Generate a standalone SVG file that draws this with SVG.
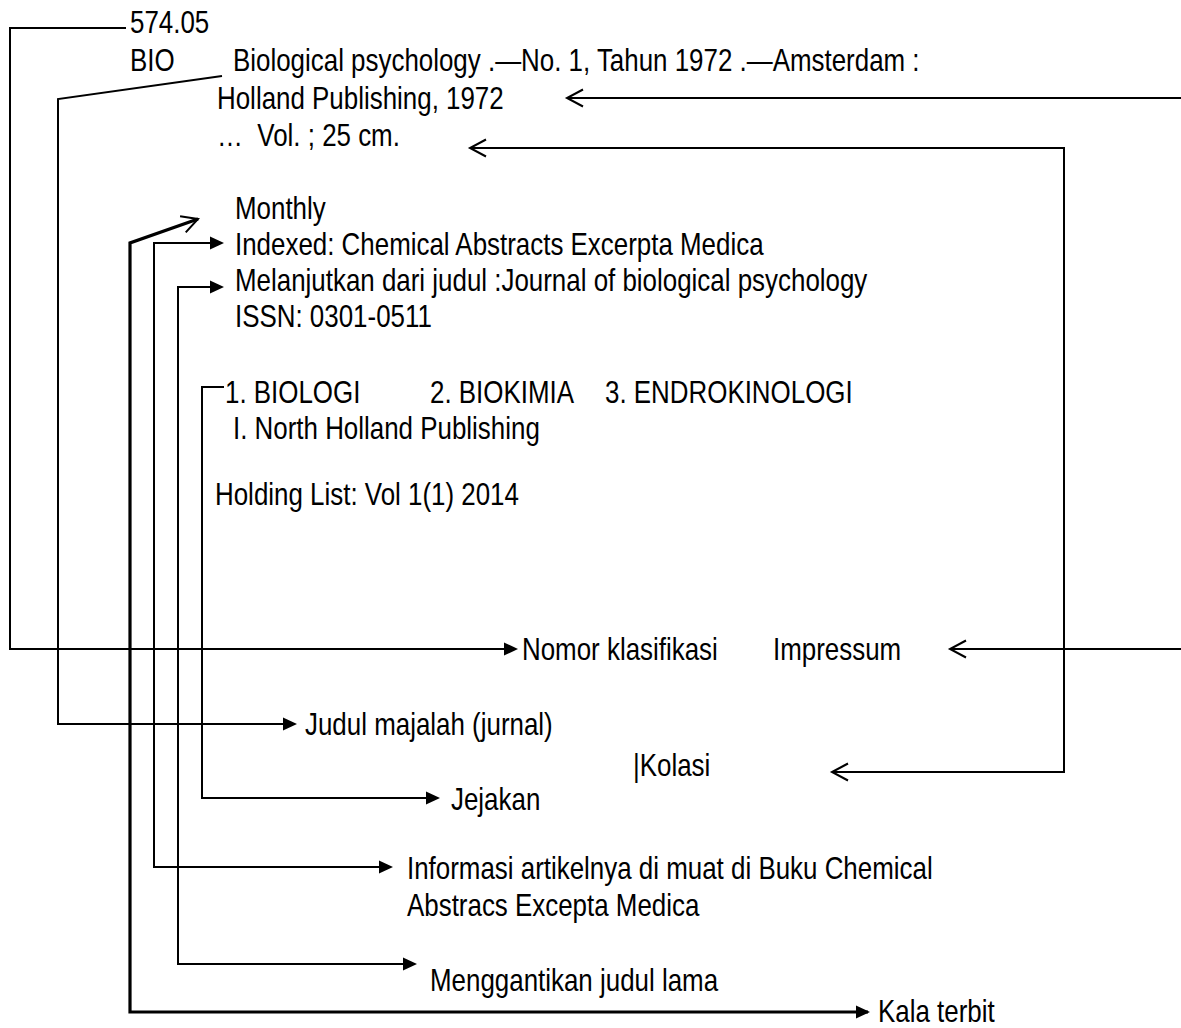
<svg xmlns="http://www.w3.org/2000/svg" width="1181" height="1028" viewBox="0 0 1181 1028">
<style>
  .t { font-family: "Liberation Sans", Arial, sans-serif; font-size: 32px; fill: #000; white-space: pre; }
  .ln { fill: none; stroke: #000; stroke-width: 2; stroke-linejoin: miter; }
  .thick { stroke-width: 3.2; }
</style>
<defs>
  <marker id="fa" viewBox="-14 -8 18 16" refX="0" refY="0" markerWidth="18" markerHeight="16" markerUnits="userSpaceOnUse" orient="auto-start-reverse">
    <path d="M-12,-6.5 L2,0 L-12,6.5 Z" fill="#000"/>
  </marker>
  <marker id="oa" viewBox="-20 -11 24 22" refX="0" refY="0" markerWidth="24" markerHeight="22" markerUnits="userSpaceOnUse" orient="auto-start-reverse">
    <path d="M-16,-8.5 L0,0 L-16,8.5" fill="none" stroke="#000" stroke-width="2"/>
  </marker>
</defs>
<rect width="1181" height="1028" fill="#fff"/>

<g id="connectors">
  <path class="ln" d="M126,28 H10 V649 H516" marker-end="url(#fa)"/>
  <path class="ln" d="M222,76 L58,99 V724 H295" marker-end="url(#fa)"/>
  <path class="ln thick" d="M198,219 L130,243 V1012 H868" marker-start="url(#oa)" marker-end="url(#fa)"/>
  <path class="ln" d="M222,243 H154 V867 H391" marker-start="url(#fa)" marker-end="url(#fa)"/>
  <path class="ln" d="M222,287 H178 V964 H415" marker-start="url(#fa)" marker-end="url(#fa)"/>
  <path class="ln" d="M224,387 H202 V798 H438" marker-end="url(#fa)"/>
  <path class="ln" d="M1181,98 H567" marker-end="url(#oa)"/>
  <path class="ln" d="M470,148 H1064 V772 H832" marker-start="url(#oa)" marker-end="url(#oa)"/>
  <path class="ln" d="M1181,649 H950" marker-end="url(#oa)"/>
</g>

<g id="card">
  <g id="call-number"><text class="t" transform="translate(130,33) scale(0.81,1)">574.05</text></g>
  <g id="call-bio"><text class="t" transform="translate(130,71) scale(0.81,1)">BIO</text></g>
  <g id="title"><text class="t" transform="translate(233,71) scale(0.81,1)">Biological psychology .—No. 1, Tahun 1972 .—Amsterdam :</text></g>
  <g id="publisher"><text class="t" transform="translate(217,109) scale(0.81,1)">Holland Publishing, 1972</text></g>
  <g id="collation"><text class="t" transform="translate(217,146) scale(0.81,1)">…  Vol. ; 25 cm.</text></g>
  <g id="monthly"><text class="t" transform="translate(235,219) scale(0.81,1)">Monthly</text></g>
  <g id="indexed"><text class="t" transform="translate(235,255) scale(0.81,1)">Indexed: Chemical Abstracts Excerpta Medica</text></g>
  <g id="continues"><text class="t" transform="translate(235,291) scale(0.81,1)">Melanjutkan dari judul :Journal of biological psychology</text></g>
  <g id="issn"><text class="t" transform="translate(235,327) scale(0.81,1)">ISSN: 0301-0511</text></g>
  <g id="subject1"><text class="t" transform="translate(225,403) scale(0.81,1)">1. BIOLOGI</text></g>
  <g id="subject2"><text class="t" transform="translate(430,403) scale(0.81,1)">2. BIOKIMIA</text></g>
  <g id="subject3"><text class="t" transform="translate(605,403) scale(0.81,1)">3. ENDROKINOLOGI</text></g>
  <g id="added-entry"><text class="t" transform="translate(233,439) scale(0.81,1)">I. North Holland Publishing</text></g>
  <g id="holding"><text class="t" transform="translate(215,505) scale(0.81,1)">Holding List: Vol 1(1) 2014</text></g>
</g>

<g id="labels">
  <g id="lbl-nomor"><text class="t" transform="translate(522,660) scale(0.81,1)">Nomor klasifikasi</text></g>
  <g id="lbl-impressum"><text class="t" transform="translate(773,660) scale(0.81,1)">Impressum</text></g>
  <g id="lbl-judul"><text class="t" transform="translate(305,735) scale(0.81,1)">Judul majalah (jurnal)</text></g>
  <g id="lbl-kolasi"><text class="t" transform="translate(633,776) scale(0.81,1)">|Kolasi</text></g>
  <g id="lbl-jejakan"><text class="t" transform="translate(451,810) scale(0.81,1)">Jejakan</text></g>
  <g id="lbl-informasi"><text class="t" transform="translate(407,879) scale(0.81,1)">Informasi artikelnya di muat di Buku Chemical</text><text class="t" transform="translate(407,916) scale(0.81,1)">Abstracs Excepta Medica</text></g>
  <g id="lbl-mengganti"><text class="t" transform="translate(430,991) scale(0.81,1)">Menggantikan judul lama</text></g>
  <g id="lbl-kala"><text class="t" transform="translate(878,1022) scale(0.81,1)">Kala terbit</text></g>
</g>
</svg>
